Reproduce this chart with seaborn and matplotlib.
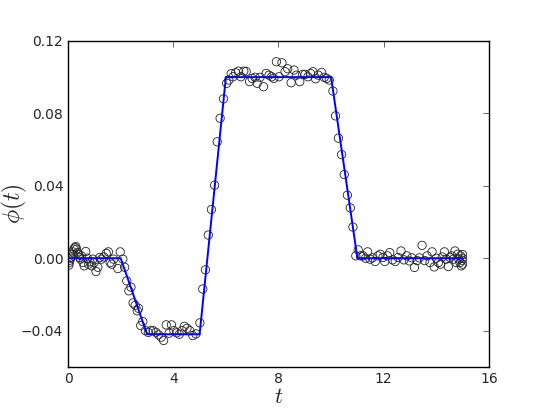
# step response: fitted piecewise-linear phi(t) over noisy samples

import numpy as np
import pandas as pd
import matplotlib
matplotlib.use("Agg")
import matplotlib.pyplot as plt
import seaborn as sns

# fitted curve (knots)
line_t = [0, 2, 3, 5, 6, 10, 11, 15]
line_phi = [0.0, 0.0, -0.042, -0.042, 0.1, 0.1, 0.0, 0.0]

sample_t = [
    0.03, 0.04, 0.07, 0.09, 0.12, 0.15, 0.18, 0.22, 0.26, 0.29, 0.32, 0.36, 0.40, 0.44, 0.47,
    0.51, 0.57, 0.61, 0.67, 0.73, 0.78, 0.83, 0.90, 0.94, 0.99, 1.06, 1.13, 1.20, 1.27, 1.36,
    1.45, 1.53, 1.60, 1.66, 1.73, 1.89, 1.98, 2.08, 2.15, 2.23, 2.31, 2.39, 2.47, 2.55, 2.63,
    2.68, 2.76, 2.84, 2.94, 3.05, 3.14, 3.23, 3.34, 3.44, 3.54, 3.63, 3.73, 3.84, 3.93, 4.02,
    4.13, 4.23, 4.33, 4.42, 4.52, 4.63, 4.74, 4.86, 5.01, 5.12, 5.22, 5.33, 5.45, 5.57, 5.67,
    5.78, 5.91, 6.03, 6.11, 6.20, 6.27, 6.37, 6.48, 6.57, 6.68, 6.77, 6.90, 7.00, 7.11, 7.19,
    7.30, 7.43, 7.53, 7.64, 7.74, 7.82, 7.92, 8.02, 8.13, 8.25, 8.35, 8.48, 8.59, 8.68, 8.81,
    8.92, 9.01, 9.12, 9.22, 9.31, 9.41, 9.51, 9.64, 9.74, 9.83, 9.93, 10.07, 10.17, 10.28, 10.40,
    10.50, 10.62, 10.73, 10.83, 10.94, 11.03, 11.12, 11.21, 11.31, 11.39, 11.48, 11.57, 11.68, 11.78, 11.87,
    11.97, 12.04, 12.14, 12.23, 12.34, 12.44, 12.55, 12.66, 12.77, 12.88, 12.98, 13.07, 13.17, 13.27, 13.36,
    13.46, 13.56, 13.65, 13.76, 13.84, 13.92, 14.00, 14.08, 14.16, 14.23, 14.31, 14.38, 14.46, 14.52, 14.59,
    14.65, 14.71, 14.76, 14.82, 14.86, 14.90, 14.92, 14.95, 14.98, 15.00, 15.00, 15.00,
]
sample_phi = [
    -0.0038, -0.0024, -0.0011, 0.0000, 0.0007, 0.0022, 0.0035, 0.0050, 0.0059, 0.0064, 0.0050, 0.0030, 0.0020, 0.0004, -0.0005,
    0.0013, -0.0024, -0.0042, 0.0037, 0.0000, -0.0033, -0.0020, -0.0042, -0.0005, -0.0024, -0.0073, -0.0050, 0.0004, -0.0005, 0.0007,
    0.0027, 0.0035, -0.0024, -0.0033, -0.0005, -0.0057, 0.0035, -0.0005, -0.0050, -0.0125, -0.0180, -0.0160, -0.0247, -0.0260, -0.0290,
    -0.0277, -0.0372, -0.0350, -0.0400, -0.0410, -0.0400, -0.0400, -0.0409, -0.0423, -0.0436, -0.0454, -0.0368, -0.0414, -0.0368, -0.0400,
    -0.0412, -0.0420, -0.0400, -0.0376, -0.0387, -0.0400, -0.0427, -0.0418, -0.0357, -0.0170, -0.0064, 0.0128, 0.0269, 0.0403, 0.0643,
    0.0773, 0.0880, 0.0966, 0.0984, 0.1019, 0.1002, 0.1024, 0.1033, 0.1002, 0.1033, 0.1031, 0.0975, 0.0993, 0.0999, 0.0966,
    0.0999, 0.0947, 0.1020, 0.1011, 0.1002, 0.0993, 0.1085, 0.1002, 0.1079, 0.1030, 0.1046, 0.0969, 0.1039, 0.1011, 0.0975,
    0.1015, 0.1015, 0.1002, 0.1020, 0.1030, 0.0991, 0.1011, 0.1026, 0.0999, 0.0993, 0.0984, 0.0923, 0.0786, 0.0663, 0.0572,
    0.0462, 0.0348, 0.0278, 0.0172, 0.0013, 0.0046, 0.0013, 0.0013, 0.0000, 0.0035, -0.0005, 0.0002, -0.0018, 0.0013, 0.0022,
    0.0004, -0.0018, 0.0013, 0.0031, -0.0009, -0.0018, 0.0004, 0.0040, -0.0009, 0.0013, -0.0015, 0.0002, -0.0051, -0.0013, 0.0002,
    0.0071, -0.0013, 0.0013, -0.0024, 0.0035, -0.0048, 0.0000, -0.0024, -0.0033, 0.0007, 0.0035, -0.0005, -0.0046, 0.0004, 0.0013,
    -0.0005, 0.0040, -0.0024, 0.0022, -0.0005, -0.0024, 0.0013, -0.0042, -0.0011, -0.0033, 0.0000, 0.0020,
]

line_df = pd.DataFrame({"t": line_t, "phi": line_phi})
pts = pd.DataFrame({"t": sample_t, "phi": sample_phi})

sns.set_style("white")
plt.rcParams["font.family"] = ["DejaVu Sans"]
plt.rcParams["mathtext.fontset"] = "cm"

fig = plt.figure(figsize=(5.45, 4.09), dpi=100)
ax = fig.add_axes([0.125, 0.103, 0.772, 0.797])

sns.scatterplot(x="t", y="phi", data=pts, ax=ax, marker="o", s=36,
                facecolor="none", edgecolor="#222222", linewidth=0.6, zorder=2)
sns.lineplot(x="t", y="phi", data=line_df, ax=ax, color="#0000ff",
             linewidth=1.4, sort=False, estimator=None, zorder=3)

ax.set_xlim(0, 16)
ax.set_ylim(-0.06, 0.12)
ax.set_xticks([0, 4, 8, 12, 16])
ax.set_yticks([-0.04, 0.0, 0.04, 0.08, 0.12])
ax.set_yticklabels(["\u22120.04", "0.00", "0.04", "0.08", "0.12"])
ax.tick_params(direction="in", length=4, width=0.5, top=True, right=True, labelsize=10)
for sp in ax.spines.values():
    sp.set_color("black")
    sp.set_linewidth(1.0)

ax.set_xlabel("$t$", fontsize=16)
ax.set_ylabel(r"$\phi(t)$", fontsize=17)
ax.xaxis.set_label_coords(0.5, -0.062)
ax.yaxis.set_label_coords(-0.093, 0.5)

fig.savefig("out.png", dpi=100)
plt.close(fig)
